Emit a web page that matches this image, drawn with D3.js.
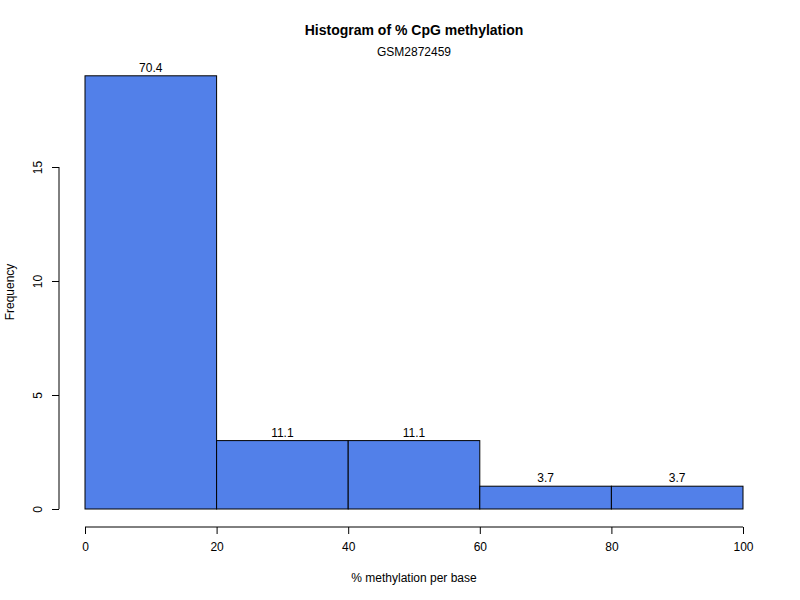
<!DOCTYPE html>
<html><head><meta charset="utf-8">
<script src="https://cdn.jsdelivr.net/npm/d3@7"></script>
<style>body{margin:0;background:#fff}svg{display:block;font-family:"Liberation Sans",Arial,sans-serif}</style>
</head><body>
<svg id="c" width="800" height="600"></svg>
<script>
const binStarts = [0, 20, 40, 60, 80];
const binEnds = [20, 40, 60, 80, 100];
const counts = [19, 3, 3, 1, 1];
const pctLabels = ["70.4", "11.1", "11.1", "3.7", "3.7"];
const xTicks = [0, 20, 40, 60, 80, 100];
const yTicks = [0, 5, 10, 15];
const title = "Histogram of % CpG methylation";
const subtitle = "GSM2872459";
const xLabel = "% methylation per base";
const yLabel = "Frequency";

const svg = d3.select("#c");
const x = d3.scaleLinear().domain([0, 100]).range([85, 743]);
const y = d3.scaleLinear().domain([0, 15]).range([509, 167]);

svg.selectAll("rect.bar").data(counts).enter().append("rect")
  .attr("class", "bar")
  .attr("x", (d, i) => x(binStarts[i]))
  .attr("width", (d, i) => x(binEnds[i]) - x(binStarts[i]))
  .attr("y", d => y(d))
  .attr("height", d => y(0) - y(d))
  .attr("fill", "#5280E9").attr("stroke", "#000").attr("stroke-width", 1);

svg.selectAll("text.lab").data(counts).enter().append("text")
  .attr("x", (d, i) => x((binStarts[i] + binEnds[i]) / 2))
  .attr("y", d => y(d) - 4)
  .attr("text-anchor", "middle").attr("font-size", 12)
  .text((d, i) => pctLabels[i]);

const xa = svg.append("g").attr("transform", "translate(0,527)")
  .call(d3.axisBottom(x).tickValues(xTicks).tickSize(7).tickPadding(8));
const ya = svg.append("g").attr("transform", "translate(59,0)")
  .call(d3.axisLeft(y).tickValues(yTicks).tickSize(7).tickPadding(6));
[xa, ya].forEach(a => {
  a.selectAll("path.domain").attr("stroke", "#000");
  a.selectAll("line").attr("stroke", "#000");
  a.selectAll("text").attr("font-size", 12).attr("fill", "#000")
   .attr("font-family", '"Liberation Sans",Arial,sans-serif');
});
// remove outer ticks artifacts
xa.select("path.domain").attr("d", `M${x(0)},0H${x(100)}`);
ya.select("path.domain").attr("d", `M0,${y(0)}V${y(15)}`);
ya.selectAll(".tick text").attr("transform", function(){ 
  return "rotate(-90)"; })
  .attr("x", 0).attr("dy", 0).attr("text-anchor", "middle")
  .attr("y", -17);

svg.append("text").attr("x", 414).attr("y", 35).attr("text-anchor", "middle")
  .attr("font-size", 14).attr("font-weight", "bold").text(title);
svg.append("text").attr("x", 414).attr("y", 56).attr("text-anchor", "middle")
  .attr("font-size", 12).text(subtitle);
svg.append("text").attr("x", 414).attr("y", 582).attr("text-anchor", "middle")
  .attr("font-size", 12).text(xLabel);
svg.append("text").attr("transform", "translate(14,292) rotate(-90)")
  .attr("text-anchor", "middle").attr("font-size", 12).text(yLabel);
</script>
</body></html>
